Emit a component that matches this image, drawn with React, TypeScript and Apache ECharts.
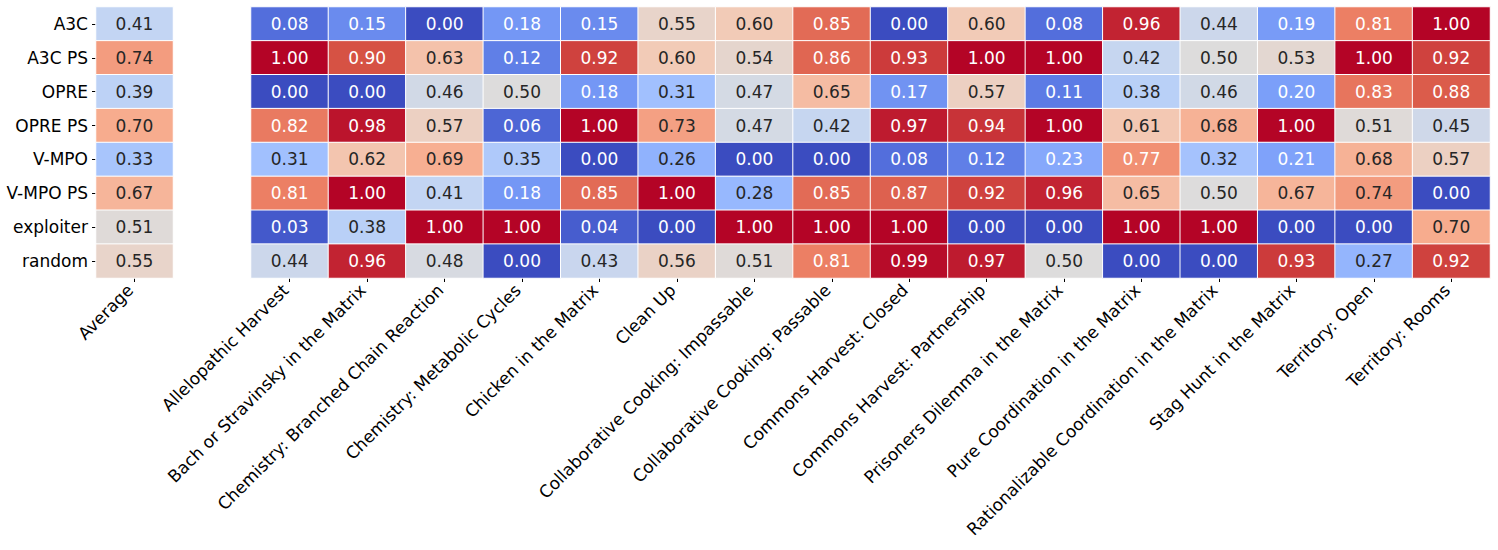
import React, { useEffect, useRef } from "react";
import * as echarts from "echarts";

const agents = ["A3C", "A3C PS", "OPRE", "OPRE PS", "V-MPO", "V-MPO PS", "exploiter", "random"];
const averageLabel = ["Average"];
const averages = [0.41, 0.74, 0.39, 0.70, 0.33, 0.67, 0.51, 0.55];
const substrates = [
  "Allelopathic Harvest",
  "Bach or Stravinsky in the Matrix",
  "Chemistry: Branched Chain Reaction",
  "Chemistry: Metabolic Cycles",
  "Chicken in the Matrix",
  "Clean Up",
  "Collaborative Cooking: Impassable",
  "Collaborative Cooking: Passable",
  "Commons Harvest: Closed",
  "Commons Harvest: Partnership",
  "Prisoners Dilemma in the Matrix",
  "Pure Coordination in the Matrix",
  "Rationalizable Coordination in the Matrix",
  "Stag Hunt in the Matrix",
  "Territory: Open",
  "Territory: Rooms",
];
const a3c = [0.08, 0.15, 0.00, 0.18, 0.15, 0.55, 0.60, 0.85, 0.00, 0.60, 0.08, 0.96, 0.44, 0.19, 0.81, 1.00];
const a3cPs = [1.00, 0.90, 0.63, 0.12, 0.92, 0.60, 0.54, 0.86, 0.93, 1.00, 1.00, 0.42, 0.50, 0.53, 1.00, 0.92];
const opre = [0.00, 0.00, 0.46, 0.50, 0.18, 0.31, 0.47, 0.65, 0.17, 0.57, 0.11, 0.38, 0.46, 0.20, 0.83, 0.88];
const oprePs = [0.82, 0.98, 0.57, 0.06, 1.00, 0.73, 0.47, 0.42, 0.97, 0.94, 1.00, 0.61, 0.68, 1.00, 0.51, 0.45];
const vmpo = [0.31, 0.62, 0.69, 0.35, 0.00, 0.26, 0.00, 0.00, 0.08, 0.12, 0.23, 0.77, 0.32, 0.21, 0.68, 0.57];
const vmpoPs = [0.81, 1.00, 0.41, 0.18, 0.85, 1.00, 0.28, 0.85, 0.87, 0.92, 0.96, 0.65, 0.50, 0.67, 0.74, 0.00];
const exploiter = [0.03, 0.38, 1.00, 1.00, 0.04, 0.00, 1.00, 1.00, 1.00, 0.00, 0.00, 1.00, 1.00, 0.00, 0.00, 0.70];
const random = [0.44, 0.96, 0.48, 0.00, 0.43, 0.56, 0.51, 0.81, 0.99, 0.97, 0.50, 0.00, 0.00, 0.93, 0.27, 0.92];
const scores = [a3c, a3cPs, opre, oprePs, vmpo, vmpoPs, exploiter, random];

const coolwarm = [
  "#3b4cc0", "#5977e3", "#7b9ff9", "#9ebeff", "#c0d4f5", "#dddcdc",
  "#f2cbb7", "#f7ac8e", "#ee8468", "#d65244", "#b40426",
];

function hexToRgb(h: string) {
  return [parseInt(h.slice(1, 3), 16), parseInt(h.slice(3, 5), 16), parseInt(h.slice(5, 7), 16)];
}
function cmap(v: number) {
  const t = Math.max(0, Math.min(1, v)) * (coolwarm.length - 1);
  const i = Math.min(Math.floor(t), coolwarm.length - 2);
  const f = t - i;
  const a = hexToRgb(coolwarm[i]);
  const b = hexToRgb(coolwarm[i + 1]);
  return a.map((c, k) => c + (b[k] - c) * f);
}
function textColor(v: number) {
  const lin = cmap(v).map((c) => {
    const s = c / 255;
    return s <= 0.03928 ? s / 12.92 : Math.pow((s + 0.055) / 1.055, 2.4);
  });
  const lum = 0.2126 * lin[0] + 0.7152 * lin[1] + 0.0722 * lin[2];
  return lum > 0.408 ? "#262626" : "#ffffff";
}
function cell(x: number, y: number, v: number) {
  return { value: [x, y, v], label: { color: textColor(v) } };
}

const FONT = "DejaVu Sans";

export default function App() {
  const ref = useRef<HTMLDivElement>(null);
  useEffect(() => {
    if (!ref.current) return;
    const chart = echarts.init(ref.current, undefined, { renderer: "svg" });
    const avgData = averages.map((v, i) => cell(0, i, v));
    const mainData: any[] = [];
    scores.forEach((row, i) => row.forEach((v, j) => mainData.push(cell(j, i, v))));
    const xLabel = {
      rotate: 45,
      fontSize: 17,
      fontFamily: FONT,
      color: "#000",
      margin: 5,
      padding: [0, 6, 0, 0],
      interval: 0,
    };
    const tick = { show: true, length: 4, alignWithLabel: true, lineStyle: { color: "#000", width: 1 } };
    const cellLabel = {
      show: true,
      fontSize: 17,
      fontFamily: FONT,
      formatter: (p: any) => Number(p.value[2]).toFixed(2),
    };
    const itemStyle = { borderColor: "#ffffff", borderWidth: 1 };
    chart.setOption({
      animation: false,
      backgroundColor: "#ffffff",
      grid: [
        { left: 96, top: 7, width: 77, height: 271 },
        { left: 251, top: 7, width: 1239, height: 271 },
      ],
      xAxis: [
        {
          type: "category",
          gridIndex: 0,
          data: averageLabel,
          axisLine: { show: false },
          axisTick: tick,
          axisLabel: xLabel,
          splitArea: { show: false },
        },
        {
          type: "category",
          gridIndex: 1,
          data: substrates,
          axisLine: { show: false },
          axisTick: tick,
          axisLabel: xLabel,
          splitArea: { show: false },
        },
      ],
      yAxis: [
        {
          type: "category",
          gridIndex: 0,
          data: agents,
          inverse: true,
          axisLine: { show: false },
          axisTick: tick,
          axisLabel: { fontSize: 17, fontFamily: FONT, color: "#000", margin: 8 },
        },
        {
          type: "category",
          gridIndex: 1,
          data: agents,
          inverse: true,
          axisLine: { show: false },
          axisTick: { show: false },
          axisLabel: { show: false },
        },
      ],
      visualMap: {
        show: false,
        min: 0,
        max: 1,
        dimension: 2,
        seriesIndex: [0, 1],
        inRange: { color: coolwarm },
      },
      series: [
        {
          type: "heatmap",
          xAxisIndex: 0,
          yAxisIndex: 0,
          data: avgData,
          label: cellLabel,
          itemStyle,
          emphasis: { disabled: true },
        },
        {
          type: "heatmap",
          xAxisIndex: 1,
          yAxisIndex: 1,
          data: mainData,
          label: cellLabel,
          itemStyle,
          emphasis: { disabled: true },
        },
      ],
    });
    return () => chart.dispose();
  }, []);
  return (
    <div
      ref={ref}
      style={{ position: "absolute", left: 0, top: 0, width: 1498, height: 550 }}
    />
  );
}
